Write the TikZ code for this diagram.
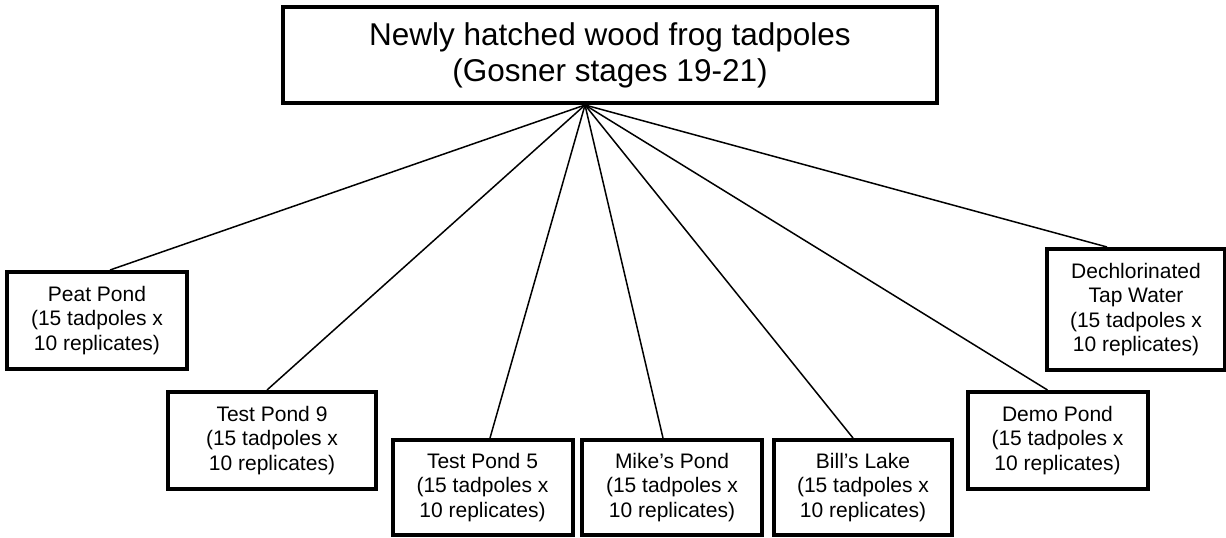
\documentclass[tikz,border=0pt]{standalone}
\usepackage{fontspec}
\setmainfont{Liberation Sans}

\begin{document}
\begin{tikzpicture}[x=1pt, y=-1pt, line width=1.5pt,
  topbox/.style={draw, line width=4pt, align=center, inner sep=0pt,
    minimum width=654pt, minimum height=96pt,
    font=\fontsize{31.5}{36}\selectfont},
  pond/.style={draw, line width=4pt, align=center, inner sep=0pt,
    minimum width=180pt, minimum height=97pt,
    font=\fontsize{21}{24.5}\selectfont}]
  \useasboundingbox (0,0) rectangle (1226,538);

  \node[topbox] (hatch) at (610,55)
    {Newly hatched wood frog tadpoles\\(Gosner stages 19-21)};

  \node[pond]                     (peat)   at (97,320.5)    {Peat Pond\\(15 tadpoles x\\10 replicates)};
  \node[pond,minimum width=208pt] (test9)  at (272,440.5)   {Test Pond 9\\(15 tadpoles x\\10 replicates)};
  \node[pond,minimum height=95pt] (test5)  at (482.5,487.5) {Test Pond 5\\(15 tadpoles x\\10 replicates)};
  \node[pond,minimum height=95pt] (mike)   at (672,487.5)   {Mike’s Pond\\(15 tadpoles x\\10 replicates)};
  \node[pond,minimum height=95pt,
        minimum width=178pt]      (bill)   at (863,487.5)   {Bill’s Lake\\(15 tadpoles x\\10 replicates)};
  \node[pond]                     (demo)   at (1057.5,440.5) {Demo Pond\\(15 tadpoles x\\10 replicates)};
  \node[pond,minimum width=178pt,
        minimum height=121pt]     (dechlor) at (1136,309.5) {Dechlorinated\\Tap Water\\(15 tadpoles x\\10 replicates)};

  \coordinate (apex) at ([xshift=-25pt]hatch.south);

  \path (apex) edge ([xshift=13pt]peat.north)
               edge ([xshift=-5pt]test9.north)
               edge ([xshift=7.5pt]test5.north)
               edge ([xshift=-9pt]mike.north)
               edge ([xshift=-10pt]bill.north)
               edge ([xshift=-10pt]demo.north)
               edge ([xshift=-29pt]dechlor.north);
\end{tikzpicture}
\end{document}
